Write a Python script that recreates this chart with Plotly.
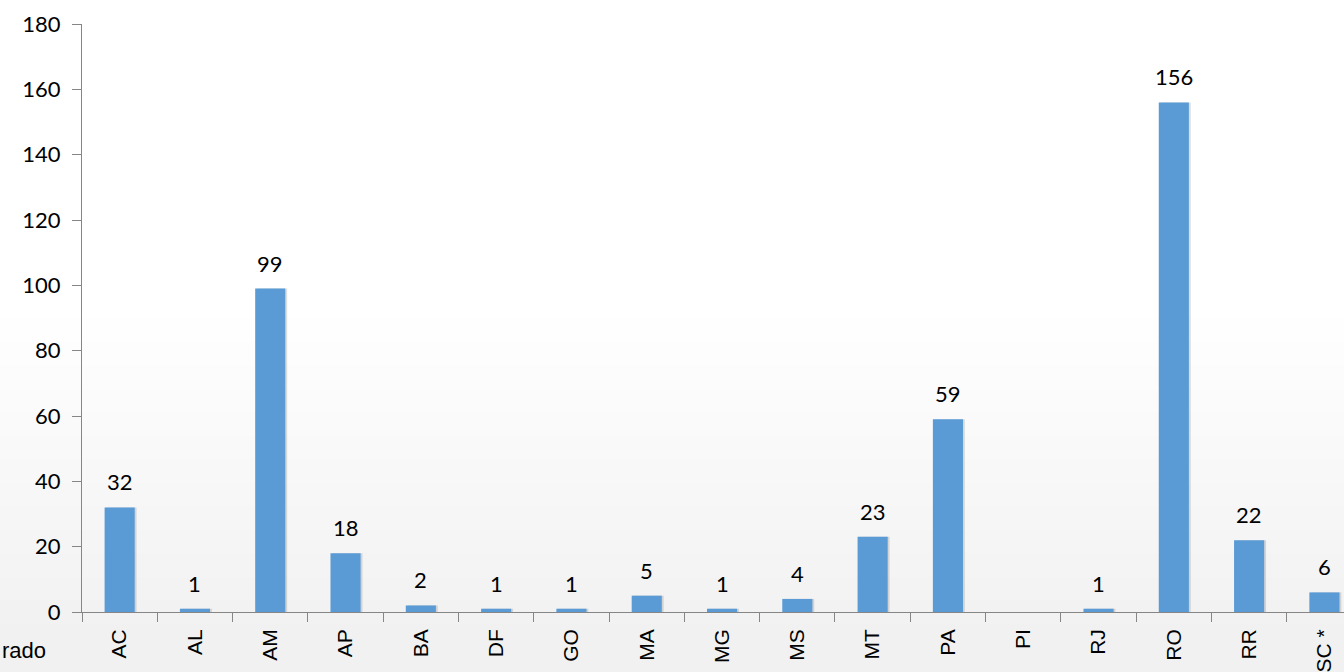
import plotly.graph_objects as go

categories = ["AC", "AL", "AM", "AP", "BA", "DF", "GO", "MA", "MG", "MS",
              "MT", "PA", "PI", "RJ", "RO", "RR", "SC *"]
values = [32, 1, 99, 18, 2, 1, 1, 5, 1, 4, 23, 59, None, 1, 156, 22, 6]
y_ticks = [0, 20, 40, 60, 80, 100, 120, 140, 160, 180]
stray_label = "rado"

fig = go.Figure()

# soft background tint (bottom)
shapes = []
n = 14
for i in range(n):
    y1 = 0.50 - i * 0.04
    shapes.append(dict(type="rect", xref="paper", yref="paper", x0=-0.07, x1=1.0,
                       y0=-0.11, y1=y1, fillcolor="rgba(208,224,208,0.026)",
                       line=dict(width=0), layer="below"))

# bar shadow
fig.add_trace(go.Bar(x=list(range(len(categories))), y=values, width=0.4, offset=-0.175,
                     marker=dict(color="rgba(0,0,0,0.13)", line=dict(width=0)),
                     hoverinfo="skip", showlegend=False))
fig.add_trace(go.Bar(x=list(range(len(categories))), y=values, width=0.4, offset=-0.2,
                     marker=dict(color="#5B9BD5", line=dict(width=0)),
                     showlegend=False))

annotations = []
for i, v in enumerate(values):
    if v is None:
        continue
    annotations.append(dict(x=i, y=v, xref="x", yref="y", text=str(v), showarrow=False,
                            yanchor="bottom", yshift=10,
                            font=dict(family="Lato, Carlito, sans-serif", size=22, color="#000000")))
annotations.append(dict(x=-0.027, y=-0.065, xref="paper", yref="paper", text=stray_label,
                        showarrow=False, xanchor="right", yanchor="middle",
                        font=dict(family="Liberation Sans, Arial, sans-serif", size=22, color="#000000")))

fig.update_layout(
    width=1344, height=672,
    margin=dict(l=82, r=0, t=24, b=60),
    paper_bgcolor="white", plot_bgcolor="rgba(0,0,0,0)",
    barmode="overlay",
    shapes=shapes,
    annotations=annotations,
    xaxis=dict(
        range=[-0.5, 16.26],
        tickmode="array", tickvals=list(range(len(categories))), ticktext=categories,
        tickangle=-90, ticks="", showgrid=False, zeroline=False,
        showline=False, ticklabelstandoff=12,
        tickfont=dict(family="Liberation Sans, Arial, sans-serif", size=21, color="#000000"),
    ),
    xaxis2=dict(
        overlaying="x", range=[-0.5, 16.26], tickmode="array",
        tickvals=[i + 0.5 for i in range(-1, len(categories))],
        ticks="outside", ticklen=9, tickcolor="#868686", tickwidth=1.3,
        showticklabels=False, showline=True, linecolor="#868686", linewidth=1.3,
        showgrid=False, zeroline=False, anchor="y", side="bottom",
    ),
    yaxis=dict(
        range=[0, 180], tickmode="array", tickvals=y_ticks,
        ticks="outside", ticklen=9, tickcolor="#868686", tickwidth=1.3,
        showline=True, linecolor="#868686", linewidth=1.3,
        showgrid=False, zeroline=False,
        tickfont=dict(family="Lato, Carlito, sans-serif", size=22, color="#000000"),
        ticklabelstandoff=7,
    ),
)
fig.add_trace(go.Scatter(x=[None], y=[None], xaxis="x2", showlegend=False))

fig.write_html("out.html")
